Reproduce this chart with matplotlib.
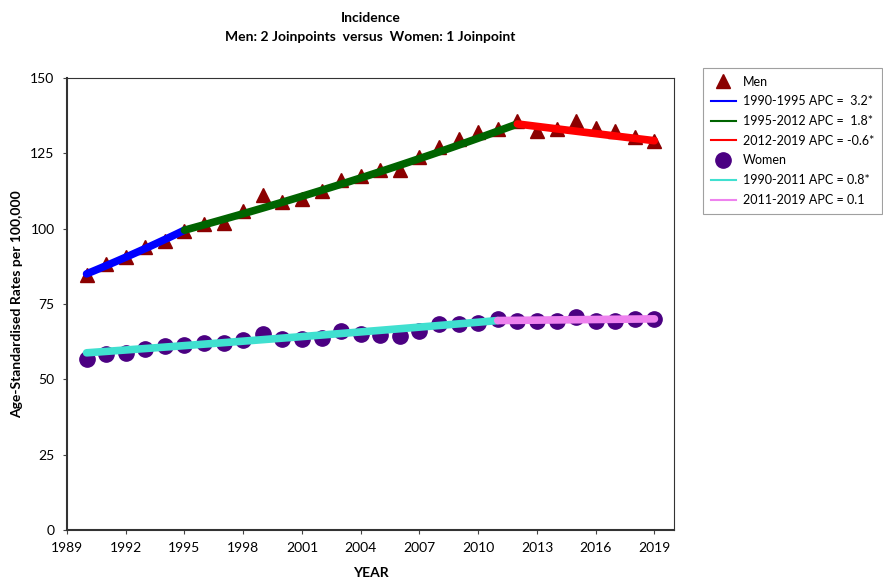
import numpy as np
import matplotlib
matplotlib.use("Agg")
import matplotlib.pyplot as plt
from matplotlib.lines import Line2D

plt.rcParams['font.family'] = ['Lato', 'DejaVu Sans']

years = list(range(1990, 2020))

men = [84.5, 88.3, 90.6, 93.9, 95.9, 99.2, 101.6, 101.9, 105.9, 111.2,
       108.9, 109.9, 112.5, 116.2, 117.5, 119.5, 119.5, 123.8, 127.1, 129.8,
       132.1, 133.1, 135.7, 132.4, 133.1, 135.7, 133.4, 132.4, 130.4, 129.1]

women = [56.8, 58.4, 58.7, 60.1, 61.1, 61.4, 62.1, 62.1, 63.1, 65.1,
         63.4, 63.4, 63.7, 66.0, 65.1, 64.7, 64.4, 66.0, 68.4, 68.4,
         68.7, 70.0, 69.4, 69.4, 69.4, 70.7, 69.4, 69.4, 70.0, 70.0]

# Joinpoint segments: (start year, end year, APC %)
men_start = 85.0
men_segments = [(1990, 1995, 3.2), (1995, 2012, 1.8), (2012, 2019, -0.6)]
men_colors = ['#0000ff', '#006400', '#ff0000']
men_labels = ['1990-1995 APC =  3.2*', '1995-2012 APC =  1.8*', '2012-2019 APC = -0.6*']

women_start = 58.8
women_segments = [(1990, 2011, 0.8), (2011, 2019, 0.1)]
women_colors = ['#40e0d0', '#ee82ee']
women_labels = ['1990-2011 APC = 0.8*', '2011-2019 APC = 0.1']

x_ticks = list(range(1989, 2020, 3))
y_ticks = [0, 25, 50, 75, 100, 125, 150]

fig = plt.figure(figsize=(8.83, 5.84), dpi=100)
ax = fig.add_axes([67 / 883, 54 / 584, 607 / 883, 452 / 584])


def draw_segments(start, segments, colors):
    level = start
    for (y0, y1, apc), col in zip(segments, colors):
        xs = np.linspace(y0, y1, 50)
        ys = level * (1 + apc / 100.0) ** (xs - y0)
        ax.plot(xs, ys, color=col, lw=5.5, solid_capstyle='round', zorder=3)
        level = ys[-1]


ax.plot(years, men, linestyle='none', marker='^', markersize=10,
        color='#8b0000', zorder=2)
ax.plot(years, women, linestyle='none', marker='o', markersize=11,
        color='#4b0082', zorder=2)

draw_segments(men_start, men_segments, men_colors)
draw_segments(women_start, women_segments, women_colors)

ax.set_xlim(1989, 2020)
ax.set_ylim(0, 150)
ax.set_xticks(x_ticks)
ax.set_yticks(y_ticks)
ax.tick_params(axis='both', labelsize=10, length=3, color='#444444', pad=6)
for s in ax.spines.values():
    s.set_color('#333333')
    s.set_linewidth(0.8)
ax.spines['left'].set_linewidth(1.5)
ax.spines['bottom'].set_linewidth(1.5)

ax.set_xlabel('YEAR', fontsize=10, fontweight='bold')
ax.set_ylabel('Age-Standardised Rates per 100,000', fontsize=10,
              fontweight='bold')
ax.xaxis.set_label_coords(0.5, -0.082)
ax.yaxis.set_label_coords(-0.072, 0.5)

cx = 0.5 * (67 + 674) / 883
fig.text(cx, 1 - 18 / 584, 'Incidence',
         ha='center', va='center', fontsize=10, fontweight='bold')
fig.text(cx, 1 - 37 / 584,
         'Men: 2 Joinpoints  versus  Women: 1 Joinpoint',
         ha='center', va='center', fontsize=10, fontweight='bold')

# Legend
handles = [Line2D([], [], linestyle='none', marker='^', markersize=10, color='#8b0000')]
labels = ['Men']
for col, lab in zip(men_colors, men_labels):
    handles.append(Line2D([], [], color=col, lw=1.5))
    labels.append(lab)
handles.append(Line2D([], [], linestyle='none', marker='o', markersize=11, color='#4b0082'))
labels.append('Women')
for col, lab in zip(women_colors, women_labels):
    handles.append(Line2D([], [], color=col, lw=1.5))
    labels.append(lab)

leg = fig.legend(handles, labels, loc='upper left',
                 bbox_to_anchor=(703 / 883, 1 - 68 / 584),
                 fontsize=9, frameon=True, fancybox=False, edgecolor='#888888',
                 handlelength=2.0, handletextpad=0.6, labelspacing=0.62,
                 borderpad=0.6, borderaxespad=0)
leg.get_frame().set_linewidth(0.8)

fig.savefig('out.png', dpi=100)
